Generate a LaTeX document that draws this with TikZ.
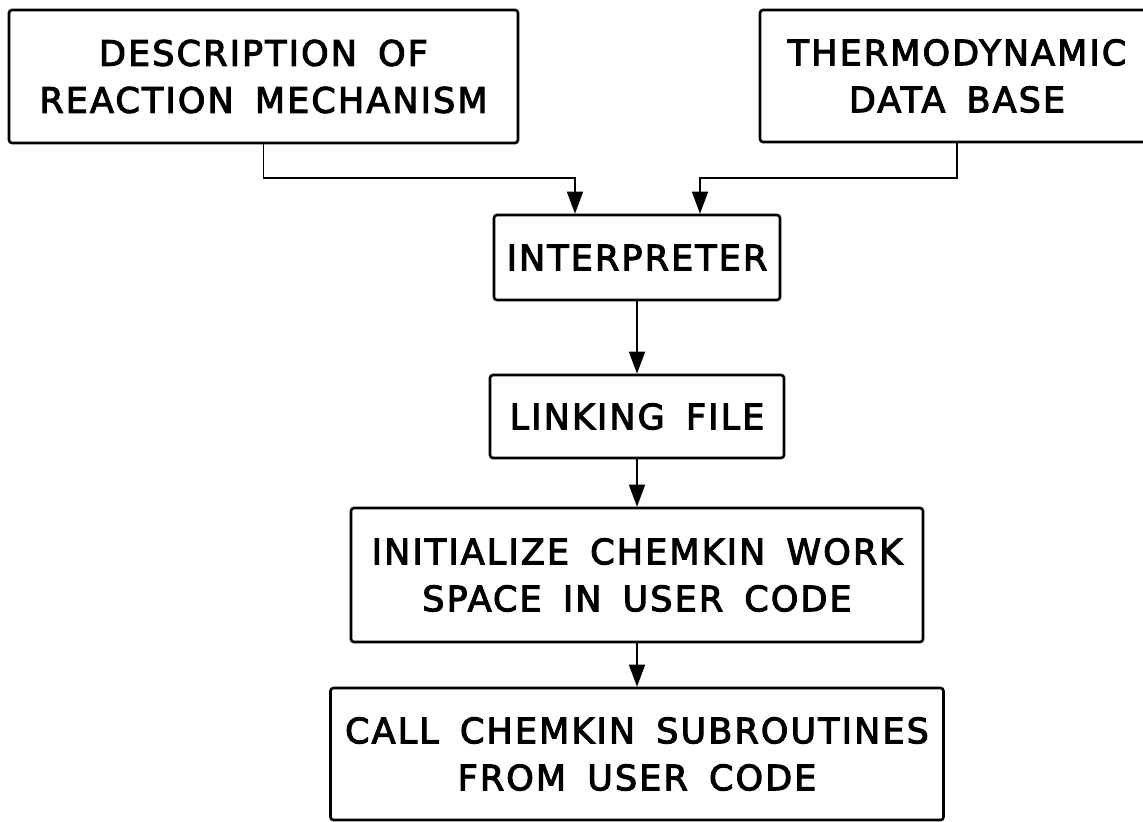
\documentclass[tikz,border=0pt]{standalone}
\usepackage{fontspec}
\newfontfamily\leroyfont{DejaVu Sans}[LetterSpace=6,WordSpace=1.6,FakeBold=3]
\usetikzlibrary{arrows.meta, positioning}
\tikzset{
  box/.style={
    draw, rectangle, rounded corners=1.5pt,
    line width=1.3pt, minimum width=#1,
    align=center, inner sep=0pt,
    font=\leroyfont\fontsize{17.5}{23.5}\selectfont
  },
  box/.default=150pt,
  arr/.style={-{Triangle[length=11pt,width=8pt]}, line width=0.8pt},
}

\begin{document}
\begin{tikzpicture}[x=0.5pt, y=0.5pt]

% Page frame, the data base box runs past its right side
\clip (0,0) rectangle (1143,-822);

% Two input boxes at the top
\node[box=254.5pt, minimum height=66.5pt] at (263.5,-76.5) (desc) {
  DESCRIPTION OF\\REACTION MECHANISM
};

\node[box=197pt, minimum height=66pt] at (957,-76) (thermo) {
  THERMODYNAMIC\\DATA BASE
};

% Chain of steps down the middle
\node[box=143pt, minimum height=42.5pt] at (637,-257.5) (interp) {INTERPRETER};

\node[box=147pt, minimum height=41.5pt] at (637,-416.5) (link) {LINKING FILE};

\node[box=286pt, minimum height=67pt] at (637,-575) (init) {
  INITIALIZE CHEMKIN WORK\\SPACE IN USER CODE
};

\node[box=306.5pt, minimum height=66pt] at (637,-754) (call) {
  CALL CHEMKIN SUBROUTINES\\FROM USER CODE
};

% Arrows
\draw[arr] (desc.south) -- ++(0,-34) -| ([xshift=-31pt]interp.north);
\draw[arr] (thermo.south) -- ++(0,-35) -| ([xshift=31.5pt]interp.north);
\draw[arr] (interp) -- (link);
\draw[arr] (link) -- (init);
\draw[arr] (init) -- (call);

\end{tikzpicture}
\end{document}
